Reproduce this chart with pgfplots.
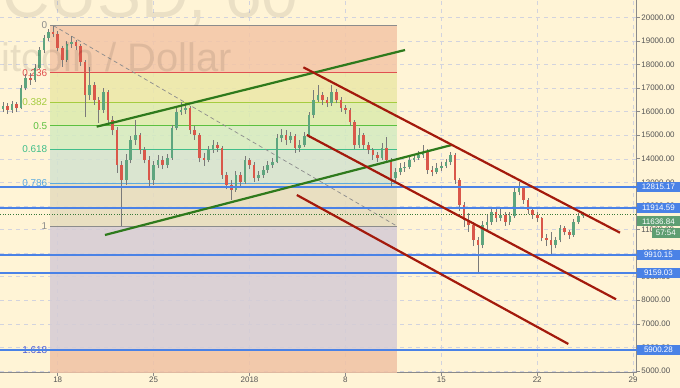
\documentclass[border=0pt]{standalone}
\usepackage{pgfplots}
\pgfplotsset{compat=1.18}
\usepackage{pgfplotstable}
\usepackage{fontspec}
\setmainfont{Liberation Sans}
\definecolor{bgc}{HTML}{FFF4D6}
\definecolor{axc}{HTML}{8A8A8A}
\definecolor{tickc}{HTML}{555555}
\definecolor{gridc}{HTML}{D2D3DE}
\definecolor{upc}{HTML}{5EA57E}
\definecolor{dnc}{HTML}{D9574A}
\definecolor{wickc}{HTML}{7A7A7A}
\definecolor{zA}{HTML}{F4C6A6}
\definecolor{zB}{HTML}{ECE8A8}
\definecolor{zC}{HTML}{DCEBAE}
\definecolor{zD}{HTML}{D4EBC0}
\definecolor{zE}{HTML}{D4E3CF}
\definecolor{zF}{HTML}{E6DCBE}
\definecolor{zG}{HTML}{D5CCD5}
\definecolor{zH}{HTML}{F0C2A4}
\definecolor{lv0}{HTML}{8C8C8C}
\definecolor{lvA}{HTML}{E05050}
\definecolor{lvB}{HTML}{A5CC40}
\definecolor{lvC}{HTML}{5CC040}
\definecolor{lvD}{HTML}{40BE8A}
\definecolor{lvE}{HTML}{5AAAE0}
\definecolor{lvF}{HTML}{4A5AD8}
\definecolor{hblue}{HTML}{4A82E6}
\definecolor{boxg}{HTML}{5E9E72}
\definecolor{trg}{HTML}{2E7A1C}
\definecolor{trr}{HTML}{A31A0C}
\definecolor{dotg}{HTML}{3A7A3A}

\pgfplotstableread{
t o h l c
-4.000 16100 16400 15980 16240
-3.667 16240 16380 15900 16070
-3.333 16070 16450 15950 16320
-3.000 16320 16420 16000 16150
-2.667 16150 17150 16100 17000
-2.333 17000 17600 16900 17430
-2.000 17430 17650 17150 17340
-1.667 17340 18000 17250 17850
-1.333 17850 18750 17800 18610
-1.000 18610 19250 18500 19120
-0.667 19120 19500 19000 19380
-0.333 19380 19650 19150 19290
0.000 19290 19400 18550 18700
0.333 18700 18800 17900 18190
0.667 18190 19000 18100 18870
1.000 18870 19200 18700 18950
1.333 18950 19050 18600 18780
1.667 18780 18850 17950 18100
2.000 18100 18200 15770 16700
2.333 16700 17900 16500 17130
2.667 17130 17250 16300 16490
3.000 16490 16600 15520 16070
3.333 16070 17000 15950 16830
3.667 16830 16900 15500 15640
4.000 15640 15800 15000 15220
4.333 15220 15350 13400 13740
4.667 13740 13900 11150 13100
5.000 13100 14200 12900 13950
5.333 13950 14950 13800 14800
5.667 14800 15650 14600 15010
6.000 15010 15100 14200 14370
6.333 14370 14500 13800 13950
6.667 13950 14100 12800 13100
7.000 13100 13900 12900 13740
7.333 13740 14150 13600 13950
7.667 13950 14100 13550 13740
8.000 13740 14200 13600 14030
8.333 14030 15450 13950 15310
8.667 15310 16200 15200 15980
9.000 15980 16420 15850 16070
9.333 16070 16350 15900 16150
9.667 16150 16250 15050 15220
10.000 15220 15400 14800 15010
10.333 15010 15100 13850 14030
10.667 14030 14250 13700 13950
11.000 13950 14550 13850 14370
11.333 14370 14800 14250 14590
11.667 14590 14700 14300 14460
12.000 14460 14550 13150 13310
12.333 13310 13450 12700 12890
12.667 12890 13100 12250 12680
13.000 12680 13500 12600 13310
13.333 13310 13450 12850 13010
13.667 13010 14100 12950 13950
14.000 13950 14050 13550 13740
14.333 13740 13850 13000 13190
14.667 13190 13500 13050 13310
15.000 13310 13700 13200 13520
15.333 13520 13900 13400 13740
15.667 13740 14050 13600 13860
16.000 13860 15050 13800 14880
16.333 14880 15250 14700 15010
16.667 15010 15200 14600 14800
17.000 14800 15150 14650 14970
17.333 14970 15050 14250 14460
17.667 14460 14800 14300 14590
18.000 14590 15150 14500 14970
18.333 14970 16000 14900 15860
18.667 15860 16900 15750 16490
19.000 16490 17130 16400 16700
19.333 16700 16850 16300 16490
19.667 16490 16600 16200 16370
20.000 16370 17130 16250 16830
20.333 16830 16950 16350 16490
20.667 16490 16600 16000 16150
21.000 16150 16300 15900 16070
21.333 16070 16150 15400 15560
21.667 15560 15650 14400 14590
22.000 14590 15300 14450 15010
22.333 15010 15100 14400 14590
22.667 14590 14700 14200 14370
23.000 14370 14450 13950 14160
23.333 14160 14300 13850 14030
23.667 14030 14650 13950 14460
24.000 14460 14920 13800 13950
24.333 13950 14050 12800 13190
24.667 13190 13600 13050 13440
25.000 13440 13800 13300 13610
25.333 13610 13850 13450 13650
25.667 13650 14100 13550 13950
26.000 13950 14200 13850 14030
26.333 14030 14350 13950 14160
26.667 14160 14580 14050 14290
27.000 14290 14400 13350 13520
27.333 13520 13700 13250 13440
27.667 13440 13800 13350 13610
28.000 13610 13850 13500 13690
28.333 13690 14000 13600 13860
28.667 13860 14300 13750 14160
29.000 14160 14250 12950 13100
29.333 13100 13200 11800 12040
29.667 12040 12150 11100 11400
30.000 11400 11700 10900 11190
30.333 11190 11300 10300 10560
30.667 10560 10700 9200 10340
31.000 10340 11350 10200 11190
31.333 11190 11600 11000 11320
31.667 11320 11950 11200 11740
32.000 11740 11850 11300 11490
32.333 11490 11850 11350 11620
32.667 11620 11750 11150 11320
33.000 11320 11750 11200 11570
33.333 11570 12750 11500 12590
33.667 12590 13030 12450 12760
34.000 12760 12850 12100 12250
34.333 12250 12350 11650 11830
34.667 11830 11950 11450 11620
35.000 11620 11750 11300 11490
35.333 11490 11550 10500 10640
35.667 10640 10800 10300 10560
36.000 10560 10900 9920 10340
36.333 10340 10700 10200 10560
36.667 10560 11200 10450 11060
37.000 11060 11150 10750 10890
37.333 10890 11000 10600 10770
37.667 10770 11450 10700 11320
38.000 11320 11700 11250 11570
38.333 11570 11750 11500 11637
}\candles

\begin{document}
\begin{tikzpicture}
\useasboundingbox (0,0) rectangle (680bp,388bp);
\clip (0,0) rectangle (680bp,388bp);
\fill[bgc] (0,0) rectangle (680bp,388bp);
\begin{axis}[
  at={(0,15.3bp)}, anchor=south west,
  width=636.7bp, height=372.7bp, scale only axis,
  xmin=-4.212, xmax=42.26, ymin=4927, ymax=20734,
  axis x line*=bottom, axis y line*=right,
  axis line style={draw=axc, line width=0.8bp},
  xtick={0,7,14,21,28,35,42}, xticklabels={18,25,2018,8,15,22,29},
  ytick={5000,6000,...,20000},
  scaled y ticks=false,
  yticklabel={\pgfmathprintnumber[fixed,fixed zerofill,precision=2,1000 sep={}]{\tick}},
  /pgf/number format/assume math mode=true,
  tick align=outside, major tick length=3bp,
  tick style={draw=axc, line width=0.6bp},
  ticklabel style={font=\fontsize{8}{9}\selectfont, text=tickc},
  yticklabel style={inner sep=1.5bp},
  xticklabel style={inner sep=1.5bp},
  grid=major, major grid style={dash pattern=on 4bp off 4bp, draw=gridc, line width=0.5bp},
  clip=false,
]
% fibonacci zones
\addplot[draw=none, fill=zA, fill opacity=0.85] coordinates {(-0.562,19650) (24.75,19650) (24.75,17644) (-0.562,17644)};
\addplot[draw=none, fill=zB, fill opacity=0.85] coordinates {(-0.562,17644) (24.75,17644) (24.75,16403) (-0.562,16403)};
\addplot[draw=none, fill=zC, fill opacity=0.85] coordinates {(-0.562,16403) (24.75,16403) (24.75,15400) (-0.562,15400)};
\addplot[draw=none, fill=zD, fill opacity=0.85] coordinates {(-0.562,15400) (24.75,15400) (24.75,14397) (-0.562,14397)};
\addplot[draw=none, fill=zE, fill opacity=0.85] coordinates {(-0.562,14397) (24.75,14397) (24.75,12969) (-0.562,12969)};
\addplot[draw=none, fill=zF, fill opacity=0.85] coordinates {(-0.562,12969) (24.75,12969) (24.75,11150) (-0.562,11150)};
\addplot[draw=none, fill=zG, fill opacity=0.85] coordinates {(-0.562,11150) (24.75,11150) (24.75,5897) (-0.562,5897)};
\addplot[draw=none, fill=zH, fill opacity=0.85] coordinates {(-0.562,5897) (24.75,5897) (24.75,4927) (-0.562,4927)};
% level lines
\addplot[lv0, line width=0.9bp] coordinates {(-0.562,19650) (24.75,19650)};
\addplot[lvA, line width=0.9bp] coordinates {(-0.562,17644) (24.75,17644)};
\addplot[lvB, line width=0.9bp] coordinates {(-0.562,16403) (24.75,16403)};
\addplot[lvC, line width=0.9bp] coordinates {(-0.562,15400) (24.75,15400)};
\addplot[lvD, line width=0.9bp] coordinates {(-0.562,14397) (24.75,14397)};
\addplot[lvE, line width=0.9bp] coordinates {(-0.562,12969) (24.75,12969)};
\addplot[lv0, line width=0.9bp] coordinates {(-0.562,11150) (24.75,11150)};
\addplot[lvF, line width=1.2bp] coordinates {(-0.562,5897) (24.75,5897)};
% diagonal of the fib
\addplot[lv0, line width=0.7bp, dash pattern=on 4bp off 3bp] coordinates {(-0.32,19650) (24.74,11150)};
% level labels
\node[anchor=east, inner sep=0, text=lv0, font=\fontsize{10}{10}\selectfont] at (axis cs:-0.75,19650) {0};
\node[anchor=east, inner sep=0, text=lvA, font=\fontsize{10}{10}\selectfont] at (axis cs:-0.75,17644) {0.236};
\node[anchor=east, inner sep=0, text=lvB, font=\fontsize{10}{10}\selectfont] at (axis cs:-0.75,16403) {0.382};
\node[anchor=east, inner sep=0, text=lvC, font=\fontsize{10}{10}\selectfont] at (axis cs:-0.75,15400) {0.5};
\node[anchor=east, inner sep=0, text=lvD, font=\fontsize{10}{10}\selectfont] at (axis cs:-0.75,14397) {0.618};
\node[anchor=east, inner sep=0, text=lvE, font=\fontsize{10}{10}\selectfont] at (axis cs:-0.75,12969) {0.786};
\node[anchor=east, inner sep=0, text=lv0, font=\fontsize{10}{10}\selectfont] at (axis cs:-0.75,11150) {1};
\node[anchor=east, inner sep=0, text=lvF, font=\fontsize{10}{10}\selectfont] at (axis cs:-0.75,5897) {1.618};
% candles: wicks
\addplot[draw=none, mark=none, error bars/.cd, y dir=plus, y explicit, error mark=none,
  error bar style={line width=0.7bp, draw=wickc}]
  table[x=t, y=l, y error expr={\thisrow{h}-\thisrow{l}}] {\candles};
% bodies up
\addplot[draw=none, mark=none, error bars/.cd, y dir=plus, y explicit, error mark=none,
  error bar style={line width=2.6bp, draw=upc}]
  table[x=t, y expr={\thisrow{c}>=\thisrow{o} ? \thisrow{o} : nan}, y error expr={\thisrow{c}-\thisrow{o}}] {\candles};
% bodies down
\addplot[draw=none, mark=none, error bars/.cd, y dir=plus, y explicit, error mark=none,
  error bar style={line width=2.6bp, draw=dnc}]
  table[x=t, y expr={\thisrow{c}<\thisrow{o} ? \thisrow{c} : nan}, y error expr={\thisrow{o}-\thisrow{c}}] {\candles};
% horizontal blue levels
\addplot[hblue, line width=1.6bp] coordinates {(-4.212,12815.17) (42.26,12815.17)};
\addplot[hblue, line width=1.6bp] coordinates {(-4.212,11914.59) (42.26,11914.59)};
\addplot[hblue, line width=1.6bp] coordinates {(-4.212,9910.15) (42.26,9910.15)};
\addplot[hblue, line width=1.6bp] coordinates {(-4.212,9159.03) (42.26,9159.03)};
\addplot[hblue, line width=1.6bp] coordinates {(-4.212,5900.28) (42.26,5900.28)};
\addplot[dotg, line width=0.6bp, dotted] coordinates {(-4.212,11636.84) (42.26,11636.84)};
% trend lines
\addplot[trg, line width=2.2bp] coordinates {(2.847,15361) (25.35,18613)};
\addplot[trg, line width=2.2bp] coordinates {(3.45,10768) (28.76,14585)};
\addplot[trr, line width=2.2bp] coordinates {(17.93,17880) (41.04,10865)};
\addplot[trr, line width=2.2bp] coordinates {(18.18,15009) (40.75,8041)};
\addplot[trr, line width=2.2bp] coordinates {(17.45,12464) (37.27,6145)};
% price boxes
\tikzset{pbox/.style={anchor=west, inner sep=0, minimum width=43bp, minimum height=10bp, text=white, font=\fontsize{8}{8}\selectfont}}
\node[pbox, fill=hblue] at (axis cs:42.26,12815.17) {12815.17};
\node[pbox, fill=hblue] at (axis cs:42.26,11914.59) {11914.59};
\node[pbox, fill=boxg] at (axis cs:42.26,11340) {11636.84};
\node[pbox, fill=boxg, minimum width=28bp] at (axis cs:43.35,10840) {57:54};
\node[pbox, fill=hblue] at (axis cs:42.26,9910.15) {9910.15};
\node[pbox, fill=hblue] at (axis cs:42.26,9159.03) {9159.03};
\node[pbox, fill=hblue] at (axis cs:42.26,5900.28) {5900.28};
\end{axis}
% watermark
\node[anchor=base west, inner sep=0, font=\fontsize{66}{66}\selectfont, text=black, text opacity=0.08] at (-82bp,370bp) {BTCUSD, 60};
\node[anchor=base west, inner sep=0, font=\fontsize{40}{40}\selectfont, text=black, text opacity=0.09] at (-25bp,316.3bp) {Bitcoin / Dollar};
\end{tikzpicture}
\end{document}
